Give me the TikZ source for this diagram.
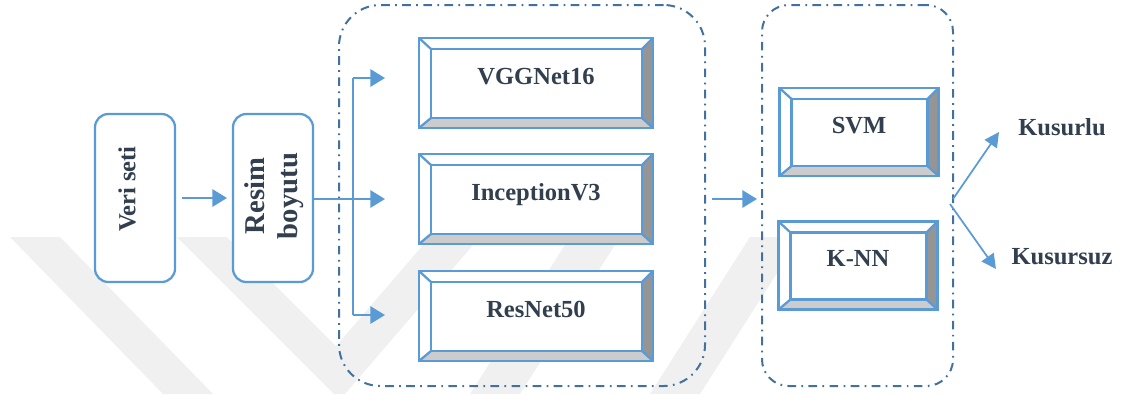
\documentclass[tikz,border=0pt]{standalone}
\usepackage{fontspec}
\setmainfont{Liberation Serif}
\usetikzlibrary{calc,arrows.meta}
\definecolor{bl}{HTML}{5B9BD5}
\definecolor{dk}{HTML}{41719C}
\definecolor{tx}{HTML}{323F4F}
\definecolor{dg}{HTML}{959595}
\definecolor{lg}{HTML}{CCCCCC}
\definecolor{wm}{HTML}{F0F0F0}
\newcommand{\bevel}[1]{%
  \coordinate (#1-a) at ($(#1.north west)+(12,11)$);
  \coordinate (#1-b) at ($(#1.north east)+(-11,11)$);
  \coordinate (#1-c) at ($(#1.south east)+(-11,-10)$);
  \coordinate (#1-d) at ($(#1.south west)+(12,-10)$);
  \fill[white] (#1.north west) -- (#1.north east) -- (#1-b) -- (#1-a) -- cycle;
  \fill[white] (#1.north west) -- (#1-a) -- (#1-d) -- (#1.south west) -- cycle;
  \fill[dg] (#1.north east) -- (#1.south east) -- (#1-c) -- (#1-b) -- cycle;
  \fill[lg] (#1.south west) -- (#1.south east) -- (#1-c) -- (#1-d) -- cycle;
  \draw[bevline] (#1.north west) rectangle (#1.south east);
  \draw[bevline] (#1-a) rectangle (#1-c);
  \draw[bevline] (#1.north west) -- (#1-a) (#1.north east) -- (#1-b)
                 (#1.south east) -- (#1-c) (#1.south west) -- (#1-d);
}
\tikzset{
  txt/.style={text=tx, font=\bfseries\fontsize{18.4}{22}\selectfont, inner sep=0pt},
  bevnode/.style={txt, fill=white, minimum width=175.5pt, minimum height=67.5pt,
     outer sep=0pt, text height=12pt, text depth=10pt},
  bevsmall/.style={bevnode, minimum width=119.25pt, minimum height=66pt},
  bevline/.style={draw=bl, line width=1.7pt, line join=miter},
  rbox/.style={draw=bl, line width=1.7pt, fill=white, rounded corners=10pt,
     minimum width=60pt, minimum height=126pt, inner sep=0pt, outer sep=0pt},
  cont/.style={draw=dk, line width=1.5pt, dash pattern=on 6.5pt off 4pt on 1.3pt off 4pt,
     inner sep=0pt, outer sep=0pt},
  arr/.style={draw=bl, line width=1.6pt, -{Triangle[length=11pt,width=13pt]}},
  thinarr/.style={draw=bl, line width=1.3pt, -{Triangle[length=11pt,width=11pt]}},
  bus/.style={draw=bl, line width=1.3pt},
}
\begin{document}
\begin{tikzpicture}[x=0.75pt,y=-0.75pt]
\useasboundingbox (0,0) rectangle (1121,394);
% watermark
\fill[wm] (10,237) -- (60,237) -- (213,394) -- (163,394) -- cycle;
\fill[wm] (177,237) -- (227,237) -- (336,346) -- (430,237) -- (480,237) -- (345,394) -- (334,394) -- cycle;
\fill[wm] (570,237) -- (620,237) -- (520,394) -- (470,394) -- cycle;
\fill[wm] (750,237) -- (800,237) -- (700,394) -- (650,394) -- cycle;
% containers
\node[cont, rounded corners=31pt, minimum width=274.5pt, minimum height=285.75pt] (c1) at (522,195.5) {};
\node[cont, rounded corners=20pt, minimum width=143.25pt, minimum height=285.75pt] (c2) at (857.5,195.5) {};
% left boxes
\node[rbox] (veri) at (135,198) {};
\node[txt, rotate=90] (verit) at (127,189) {Veri seti};
\node[rbox] (resim) at (273,198) {};
\node[txt, rotate=90, align=center, font=\bfseries\fontsize{21.5}{24.75}\selectfont] (resimt) at (274,196) {Resim\\boyutu};
% CNN boxes
\node[bevnode] (vgg) at (536,83) {VGGNet16};
\bevel{vgg}
\node[bevnode] (inc) at (536,199) {InceptionV3};
\bevel{inc}
\node[bevnode] (res) at (536,316) {ResNet50};
\bevel{res}
% classifier boxes
\node[bevsmall] (svm) at (859,132) {SVM};
\bevel{svm}
\node[bevsmall] (knn) at (858,265.5) {K-NN};
\bevel{knn}
% outputs
\node[txt] (kus) at (1062,127) {Kusurlu};
\node[txt] (kusz) at (1062,257) {Kusursuz};
\coordinate (bustop) at (353,83);
\coordinate (tip1) at (999,132);
\coordinate (tip2) at (996,269);
% connectors
\draw[arr, shorten <=5.25pt, shorten >=4.5pt] (veri.east |- resim.east) -- (resim.west);
\draw[bus] ($(vgg.west -| bustop)+(0,-5)$) -- ($(res.west -| bustop)+(0,-1)$);
\draw[arr, shorten >=25.5pt] (resim.east |- inc.west) -- (inc.west);
\draw[arr, shorten >=25.5pt] ($(vgg.west -| bustop)+(0,-5)$) -- ($(vgg.west)+(0,-5)$);
\draw[arr, shorten >=25.5pt] ($(res.west -| bustop)+(0,-1)$) -- ($(res.west)+(0,-1)$);
\draw[arr, shorten <=5.25pt, shorten >=3.75pt] (inc.east -| c1.east) -- (inc.east -| c2.west);
\draw[thinarr] (inc.east -| c2.east) -- (tip1);
\draw[thinarr] ($(inc.east -| c2.east)+(-3,5)$) -- (tip2);
\end{tikzpicture}
\end{document}
